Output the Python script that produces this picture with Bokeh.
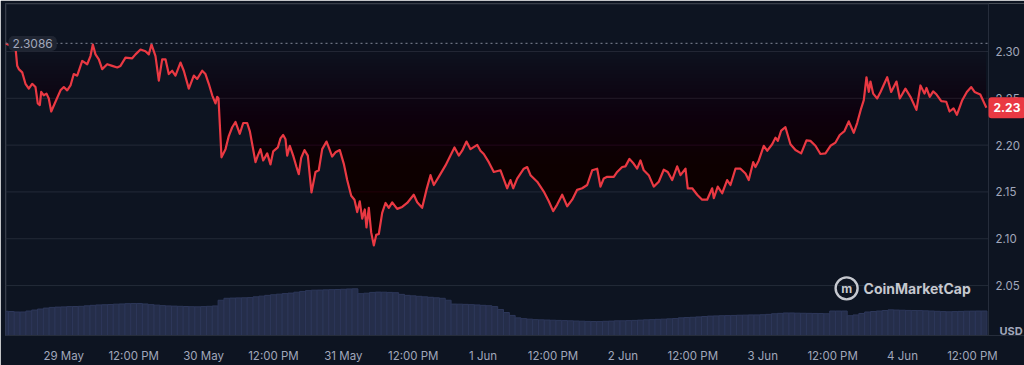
import numpy as np
from datetime import datetime, timedelta
from bokeh.plotting import figure
from bokeh.models import Range1d, FixedTicker, Label, PrintfTickFormatter
from bokeh.core.properties import value
from bokeh.embed import file_html
from bokeh.resources import INLINE

# ---------------- data ----------------
START = datetime(2025, 5, 28, 14, 0)   # hour 0 of the series

# hours since START
hours = [
    0.0, 1.72, 2.01, 2.28, 2.87, 3.43, 4.00, 4.58, 5.15, 5.54,
    5.89, 6.13, 6.57, 7.04, 7.43, 7.85, 8.58, 9.44, 10.01, 10.59,
    11.16, 11.72, 12.31, 13.17, 14.03, 14.59, 14.99, 15.45, 16.02, 16.60,
    17.46, 18.32, 19.18, 19.74, 20.60, 21.75, 22.32, 23.18, 24.03, 24.60,
    25.06, 25.75, 26.32, 26.90, 27.47, 28.03, 28.62, 29.18, 30.04, 30.61,
    31.47, 32.33, 32.91, 33.77,
    34.33, 34.90, 35.49, 36.05, 36.34, 36.57, 37.08, 37.77, 38.33, 38.92,
    39.48, 40.22, 40.81, 41.49, 41.94, 42.92, 43.31, 43.78, 44.24, 44.93,
    45.49, 45.96, 46.75, 47.21, 47.67, 48.07, 48.36, 48.81, 49.39, 49.96,
    50.35, 50.76, 51.33, 51.90, 52.53, 53.22, 53.78, 54.37, 55.11, 55.50,
    56.08, 56.65, 57.39, 58.08, 58.66, 59.35, 59.91, 60.38, 60.82, 61.24,
    61.68, 61.97, 62.37, 62.78, 63.23, 63.64, 64.09, 64.67, 65.24, 65.80,
    66.39, 67.24, 68.10, 68.96, 70.09, 70.68, 71.53, 72.27, 72.96, 73.53,
    74.38, 75.54,
    76.39, 77.08, 77.82, 78.40, 79.14, 79.83, 80.98, 81.54, 82.11, 82.97,
    83.83, 84.98, 86.13, 86.69, 87.16, 87.84, 88.98, 89.56, 90.13, 91.28,
    92.41, 93.27, 94.02, 94.71, 95.57, 96.43, 97.29, 98.14, 99.00, 99.86,
    100.72, 101.58, 102.14, 102.71, 103.29, 104.43, 105.01, 105.87, 106.43, 107.12,
    107.86, 108.44, 109.01, 109.58, 110.43, 111.29, 112.15, 113.01, 113.70, 114.45,
    115.31, 115.88, 116.74, 117.13, 117.89, 118.75, 119.60, 120.46, 121.32, 121.60,
    122.28, 123.04, 123.89, 124.46, 125.32, 126.18,
    127.04, 127.60, 128.36, 128.75, 129.32, 130.18, 130.76, 131.62, 132.19, 132.59,
    133.17, 133.90, 134.76, 135.62, 136.60, 137.51, 138.19, 139.05, 139.91, 140.77,
    141.63, 142.49, 143.22, 144.03, 144.77, 145.63, 146.21, 146.90, 147.35, 147.81,
    148.21, 148.50, 148.96, 149.65, 150.22, 151.37, 152.05, 152.96, 153.53, 154.50,
    155.36, 156.39, 157.08, 157.77, 158.11, 158.68, 159.26, 159.85, 160.65, 161.51,
    162.07, 162.76, 163.33, 164.25, 165.04, 165.80, 166.37, 167.35, 168.40,
]

price = [
    2.3086, 2.3039, 2.2847, 2.2812, 2.2777, 2.2655, 2.2603, 2.2655, 2.2620, 2.2446,
    2.2428, 2.2568, 2.2532, 2.2550, 2.2498, 2.2359, 2.2463, 2.2585, 2.2620, 2.2585,
    2.2637, 2.2759, 2.2742, 2.2899, 2.2864, 2.2951, 2.3075, 2.2969, 2.2916, 2.2812,
    2.2864, 2.2846, 2.2829, 2.2846, 2.2934, 2.2927, 2.2969, 2.3021, 2.3003, 2.2969,
    2.3075, 2.2951, 2.2689, 2.2916, 2.2916, 2.2759, 2.2794, 2.2742, 2.2882, 2.2794,
    2.2603, 2.2742, 2.2707, 2.2794,
    2.2759, 2.2655, 2.2532, 2.2446, 2.2516, 2.2498, 2.1870, 2.1957, 2.2097, 2.2191,
    2.2247, 2.2121, 2.2236, 2.2236, 2.2150, 2.1818, 2.1888, 2.1957, 2.1836, 2.1912,
    2.1794, 2.1933, 2.1975, 2.2072, 2.2108, 2.2062, 2.1888, 2.1993, 2.1888, 2.1766,
    2.1689, 2.1863, 2.1947, 2.1888, 2.1494, 2.1713, 2.1731, 2.1957, 2.2038, 2.1975,
    2.1878, 2.1923, 2.1947, 2.1800, 2.1627, 2.1459, 2.1417, 2.1285, 2.1400, 2.1214,
    2.1313, 2.1120, 2.1330, 2.1068, 2.0929, 2.1041, 2.1051, 2.1277, 2.1382, 2.1330,
    2.1389, 2.1319, 2.1340, 2.1382, 2.1470, 2.1389, 2.1330, 2.1522, 2.1679, 2.1574,
    2.1661, 2.1783,
    2.1888, 2.1975, 2.1888, 2.1940, 2.2038, 2.1957, 2.2003, 2.1940, 2.1905, 2.1818,
    2.1713, 2.1731, 2.1539, 2.1627, 2.1539, 2.1643, 2.1748, 2.1766, 2.1679, 2.1609,
    2.1504, 2.1400, 2.1295, 2.1365, 2.1470, 2.1347, 2.1417, 2.1522, 2.1539, 2.1574,
    2.1731, 2.1748, 2.1557, 2.1643, 2.1661, 2.1661, 2.1713, 2.1766, 2.1773, 2.1853,
    2.1800, 2.1748, 2.1836, 2.1731, 2.1679, 2.1557, 2.1609, 2.1737, 2.1713, 2.1627,
    2.1773, 2.1679, 2.1748, 2.1539, 2.1539, 2.1470, 2.1417, 2.1417, 2.1539, 2.1434,
    2.1557, 2.1486, 2.1627, 2.1574, 2.1748, 2.1748,
    2.1696, 2.1627, 2.1818, 2.1766, 2.1836, 2.1993, 2.1940, 2.2009, 2.2080, 2.2045,
    2.2156, 2.2191, 2.2009, 2.1947, 2.1912, 2.2051, 2.2045, 2.1993, 2.1905, 2.1912,
    2.1993, 2.2027, 2.2108, 2.2150, 2.2254, 2.2132, 2.2236, 2.2393, 2.2480, 2.2725,
    2.2568, 2.2679, 2.2550, 2.2498, 2.2568, 2.2725, 2.2568, 2.2679, 2.2498, 2.2603,
    2.2516, 2.2376, 2.2637, 2.2550, 2.2610, 2.2516, 2.2574, 2.2540, 2.2470, 2.2463,
    2.2359, 2.2393, 2.2323, 2.2480, 2.2568, 2.2620, 2.2568, 2.2540, 2.2400,
]

# hourly 24h volume (millions, arbitrary units)
volume = [
    24.7, 24.5, 24, 24, 25, 26, 27, 28, 28.7, 29,
    29.2, 29.5, 29.6, 29.8, 30.3, 30.8, 31.2, 31.4, 31.6, 32,
    32.2, 32.5, 32.6, 32.7, 32.2, 31.5, 31, 30.5, 30.2, 30,
    29.8, 29.6, 29.4, 29.3, 29.5, 29.8, 30.2, 36, 38, 38.2,
    38.4, 38.5, 38.7, 39.5, 40.2, 41, 41.6, 42.2, 42.8, 43.3,
    44.2, 45, 45.8, 46.3, 46.4, 46.6, 46.8, 47, 47.2, 47.5,
    47.7, 42.7, 43.2, 44, 44.3, 44.2, 44, 43.7, 42, 41,
    40.5, 40, 39.5, 39, 38.5, 38, 36, 32.1, 32, 31.8,
    31.5, 31.2, 30.8, 30.4, 29.5, 26.5, 23.5, 20.5, 18, 17.2,
    16.7, 16.2, 16, 15.8, 15.6, 15.4, 15.2, 15, 14.8, 14.6,
    14.4, 14.3, 14.2, 14.5, 14.7, 15, 15, 15.2, 15.4, 15.7,
    16, 16.2, 16.5, 16.7, 17, 17.3, 18, 18.4, 18.6, 19,
    19.4, 19.8, 20, 20.2, 20.3, 20.5, 20.7, 20.8, 21, 21,
    21.2, 21.6, 22.2, 22.6, 23, 23, 22.8, 22.7, 22.6, 22.5,
    22.4, 22.2, 25, 25, 25, 20.2, 21, 22.5, 24, 24.5,
    25, 25.5, 26.2, 26, 25.8, 25.6, 25.5, 25.4, 25.2, 25,
    24.7, 24.4, 24.2, 24.4, 24.6, 24.8, 24.9, 25, 25,
]
vol_hours = list(range(len(volume)))

open_price = 2.3086
last_label = "2.23"
y_ticks = [2.05, 2.10, 2.15, 2.20, 2.25, 2.30]
tick_hours = [10 + 12 * k for k in range(14)]   # 29 May 00:00 ... 4 Jun 12:00

# ---------------- style ----------------
BG = "#0d1421"
GRID = "#232a38"
FRAME = "#262d3b"
RED = "#ea3943"
TXT = "#a1a7bb"
FONT = "Inter"

X_START, X_AXIS, X_END = 0.0, 168.76, 174.94     # view extent; price axis sits at X_AXIS
Y_BOTTOM, Y_TOP = 1.99666, 2.35125

p = figure(width=1024, height=365, output_backend="svg", toolbar_location=None,
           x_range=Range1d(X_START, X_END), y_range=Range1d(Y_BOTTOM, Y_TOP),
           y_axis_location="right",
           min_border_left=5, min_border_top=3, min_border_right=0, min_border_bottom=23,
           background_fill_color=BG, border_fill_color=BG,
           outline_line_color=None)

p.extra_y_ranges = {"vol": Range1d(0, 339)}

# x axis
xa = p.xaxis[0]
xa.ticker = FixedTicker(ticks=tick_hours)
labels = {}
for h in tick_hours:
    d = START + timedelta(hours=h)
    if d.hour == 0:
        labels[h] = f"{d.day} {d.strftime('%b')}"
    else:
        labels[h] = d.strftime("%I:%M %p").lstrip("0")
xa.major_label_overrides = labels
xa.axis_line_color = FRAME
xa.major_tick_line_color = None
xa.minor_tick_line_color = None
xa.major_label_text_color = TXT
xa.major_label_text_font = FONT
xa.major_label_text_font_size = "11.5px"
xa.major_label_standoff = 7

# y axis (right, pinned at X_AXIS)
ya = p.yaxis[0]
ya.fixed_location = X_AXIS
ya.ticker = FixedTicker(ticks=y_ticks)
ya.formatter = PrintfTickFormatter(format="%.2f")
ya.axis_line_color = FRAME
ya.major_tick_line_color = None
ya.minor_tick_line_color = None
ya.major_label_text_color = TXT
ya.major_label_text_font = FONT
ya.major_label_text_font_size = "11.5px"
ya.major_label_standoff = 1

p.xgrid.visible = False
p.ygrid.visible = False

# horizontal grid lines at the price ticks, ending at the price axis
p.segment(x0=X_START, x1=X_AXIS, y0=y_ticks, y1=y_ticks, line_color=GRID, line_width=1)
# frame top / left edges
p.segment(x0=[X_START, X_START], x1=[X_AXIS, X_START], y0=[Y_TOP, Y_BOTTOM], y1=[Y_TOP, Y_TOP],
          line_color=FRAME, line_width=2)

# volume
p.vbar(x=vol_hours, top=volume, bottom=0, width=1.0, y_range_name="vol",
       fill_color="#252e4a", line_color="#2d3759", line_width=1)

# gradient fill between the price line and the opening price (stacked translucent layers)
t_dense = np.linspace(hours[0], hours[-1], 4000)
p_dense = np.interp(t_dense, hours, price)
pmin = min(price)
levels = np.arange(open_price, pmin - 0.004, -0.004)
n_layers = len(levels)
a_layer = 1 - (1 - 0.24) ** (1.0 / n_layers)
for lv in levels:
    y1 = np.minimum(p_dense, lv)
    p.varea(x=t_dense, y1=y1, y2=np.full_like(y1, lv),
            fill_color=RED, fill_alpha=a_layer)

# price line
p.line(hours, price, line_color=RED, line_width=2.2, line_join="round")

# opening price dotted line and label
p.segment(x0=X_START, x1=X_AXIS, y0=open_price, y1=open_price, line_color="#6b7080",
          line_dash="2 3", line_width=1.2)
p.add_layout(Label(x=X_START, y=open_price, x_offset=3, text=f"{open_price:.4f}",
                   text_font=FONT, text_font_size="12px", text_color=TXT,
                   text_baseline="middle", background_fill_color="#1f2532",
                   background_fill_alpha=1.0, padding=(4, 3), border_radius=5))

# current price tag
p.add_layout(Label(x=X_AXIS, y=price[-1], x_offset=0, text=last_label,
                   text_font=FONT, text_font_size="12px", text_font_style="bold",
                   text_color="white", text_baseline="middle",
                   background_fill_color=RED, background_fill_alpha=1.0,
                   padding=(5, 6), border_radius=3))

# USD label
p.add_layout(Label(x=X_AXIS, y=Y_BOTTOM, x_offset=11, y_offset=5, text="USD",
                   text_font=FONT, text_font_size="11px", text_font_style="bold",
                   text_color=TXT, text_baseline="middle"))

# watermark
WM_H, WM_P = 144.4, 2.047
p.scatter([WM_H], [WM_P], marker="circle", size=22, fill_alpha=0,
          line_color="#c5c8cf", line_width=2.4)
p.text([WM_H], [WM_P], text=["m"], text_font=value(FONT), text_font_size="12px",
       text_font_style="bold", text_color="#c5c8cf", text_align="center",
       text_baseline="middle")
p.add_layout(Label(x=WM_H, y=WM_P, x_offset=17, text="CoinMarketCap",
                   text_font=FONT, text_font_size="14px", text_font_style="bold",
                   text_color="#c5c8cf", text_baseline="middle"))

open("out.html", "w").write(file_html(p, INLINE))
